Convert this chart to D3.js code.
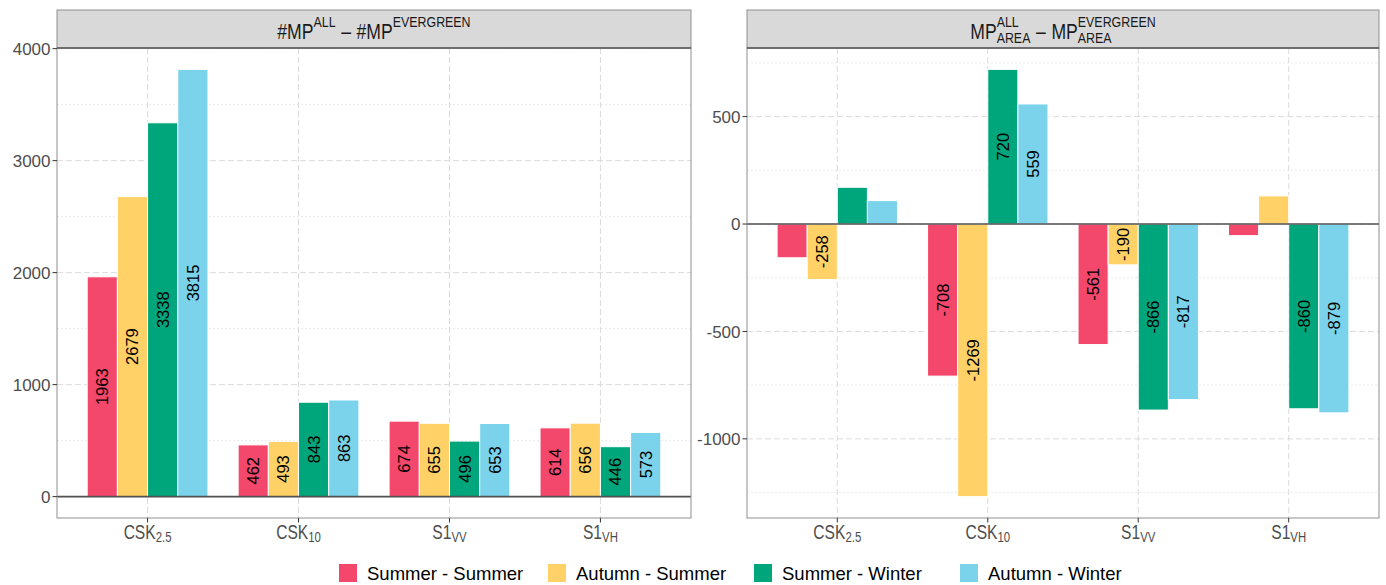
<!DOCTYPE html>
<html>
<head>
<meta charset="utf-8">
<script src="https://cdn.jsdelivr.net/npm/d3@7"></script>
<style>
  html, body { margin: 0; padding: 0; background: #fff; }
  svg { display: block; font-family: "Liberation Sans", Arial, Helvetica, sans-serif; }
</style>
</head>
<body>
<svg id="chart" width="1386" height="585"></svg>
<script>
// Sensor / product categories (base name + subscript)
const categoryBase = ["CSK", "CSK", "S1", "S1"];
const categorySub  = ["2.5", "10", "VV", "VH"];
const categoryIds  = ["CSK2.5", "CSK10", "S1VV", "S1VH"];

// Season combinations
const seriesNames  = ["Summer - Summer", "Autumn - Summer", "Summer - Winter", "Autumn - Winter"];
const seriesColors = ["#F3476B", "#FFD166", "#00A67B", "#7AD3EA"];

// #MP(ALL) - #MP(EVERGREEN), one array per season combination
const countSummerSummer = [1963, 462, 674, 614];
const countAutumnSummer = [2679, 493, 655, 656];
const countSummerWinter = [3338, 843, 496, 446];
const countAutumnWinter = [3815, 863, 653, 573];

// MP_AREA(ALL) - MP_AREA(EVERGREEN)
const areaSummerSummer = [-157, -708, -561, -54];
const areaAutumnSummer = [-258, -1269, -190, 131];
const areaSummerWinter = [171, 720, -866, -860];
const areaAutumnWinter = [109, 559, -817, -879];

// Axis ticks
const countTicks = [0, 1000, 2000, 3000, 4000];
const countMinor = [500, 1500, 2500, 3500];
const areaTicks  = [-1000, -500, 0, 500];
const areaMinor  = [-1250, -750, -250, 250, 750];

// Bars smaller than this (in absolute value) carry no value label
const labelMin = 180;

const countSeries = [countSummerSummer, countAutumnSummer, countSummerWinter, countAutumnWinter];
const areaSeries  = [areaSummerSummer, areaAutumnSummer, areaSummerWinter, areaAutumnWinter];

// math-style labels (strip titles, category names) use a narrow face
const titleScale = 0.8;
const axisMathScale = 0.76;

// legend key left edges
const legendKeyX = [339, 548, 754, 960];

const svg = d3.select("#chart");

// Draws a run of text pieces (with optional super/subscript stacks) and aligns it
function drawRich(parent, items, x, baseline, anchor, color, sx) {
  sx = sx || 1;
  const g = parent.append("g").attr("fill", color);
  let cx = 0;
  items.forEach(it => {
    if (it.gap) { cx += it.gap; return; }
    const parts = it.stack ? it.stack : [it];
    let w = 0;
    parts.forEach(p => {
      const t = g.append("text")
        .attr("x", cx).attr("y", p.dy || 0)
        .attr("font-size", p.size)
        .text(p.text);
      w = Math.max(w, t.node().getComputedTextLength());
    });
    cx += w;
  });
  const width = cx * sx;
  const off = anchor === "middle" ? -width / 2 : anchor === "end" ? -width : 0;
  g.attr("transform", `translate(${x + off},${baseline}) scale(${sx},1)`);
  return g;
}

function drawPanel(cfg) {
  const { x0, x1, y0, y1, stripTop, series, ticks, minor, title } = cfg;
  const all = series.flat();
  const lo = Math.min(0, d3.min(all)), hi = Math.max(0, d3.max(all));
  const pad = (hi - lo) * 0.05;
  const y = d3.scaleLinear().domain([lo - pad, hi + pad]).range([y1, y0]);

  const x = d3.scaleBand().domain(categoryIds).range([x0, x1])
    .paddingInner(0.2).paddingOuter(0.2);
  const xs = d3.scaleBand().domain(d3.range(series.length)).range([0, x.bandwidth()]);

  const g = svg.append("g");

  // strip
  g.append("rect").attr("x", x0).attr("y", stripTop)
    .attr("width", x1 - x0).attr("height", y0 - stripTop)
    .attr("fill", "#d9d9d9").attr("stroke", "#8f8f8f").attr("stroke-width", 1);
  drawRich(g, title, (x0 + x1) / 2, cfg.titleBaseline, "middle", "#1a1a1a", titleScale);

  // grid
  const grid = g.append("g");
  grid.selectAll(".minor").data(minor).join("line")
    .attr("x1", x0).attr("x2", x1)
    .attr("y1", d => y(d)).attr("y2", d => y(d))
    .attr("stroke", "#e4e4e4").attr("stroke-width", 0.8).attr("stroke-dasharray", "2,2");
  grid.selectAll(".major").data(ticks).join("line")
    .attr("x1", x0).attr("x2", x1)
    .attr("y1", d => y(d)).attr("y2", d => y(d))
    .attr("stroke", "#dadada").attr("stroke-width", 1).attr("stroke-dasharray", "6,3");
  grid.selectAll(".vmajor").data(categoryIds).join("line")
    .attr("x1", d => x(d) + x.bandwidth() / 2).attr("x2", d => x(d) + x.bandwidth() / 2)
    .attr("y1", y0).attr("y2", y1)
    .attr("stroke", "#dadada").attr("stroke-width", 1).attr("stroke-dasharray", "6,3");

  // bars
  const cells = [];
  series.forEach((vals, j) => vals.forEach((v, i) => cells.push({ cat: categoryIds[i], j, v })));
  g.append("g").selectAll("rect").data(cells).join("rect")
    .attr("x", d => x(d.cat) + xs(d.j))
    .attr("width", xs.bandwidth())
    .attr("y", d => y(Math.max(0, d.v)))
    .attr("height", d => Math.abs(y(d.v) - y(0)))
    .attr("fill", d => seriesColors[d.j])
    .attr("stroke", "#fff").attr("stroke-width", 1);

  // zero line
  g.append("line").attr("x1", x0).attr("x2", x1)
    .attr("y1", y(0)).attr("y2", y(0))
    .attr("stroke", "#505050").attr("stroke-width", 1.6);

  // value labels
  g.append("g").selectAll("text").data(cells.filter(d => Math.abs(d.v) >= labelMin)).join("text")
    .attr("transform", d => {
      const cx = x(d.cat) + xs(d.j) + xs.bandwidth() / 2;
      const cy = (y(d.v) + y(0)) / 2;
      return `translate(${cx},${cy}) rotate(-90)`;
    })
    .attr("text-anchor", "middle").attr("dy", "0.36em")
    .attr("font-size", 16.5).attr("fill", "#000")
    .text(d => String(d.v));

  // panel border
  g.append("rect").attr("x", x0).attr("y", y0)
    .attr("width", x1 - x0).attr("height", y1 - y0)
    .attr("fill", "none").attr("stroke", "#8f8f8f").attr("stroke-width", 1);
  g.append("line").attr("x1", x0).attr("x2", x1).attr("y1", y0).attr("y2", y0)
    .attr("stroke", "#5a5a5a").attr("stroke-width", 1.6);

  // y axis
  const ya = g.append("g");
  ya.selectAll("line").data(ticks).join("line")
    .attr("x1", x0 - 4.5).attr("x2", x0)
    .attr("y1", d => y(d)).attr("y2", d => y(d))
    .attr("stroke", "#333").attr("stroke-width", 1);
  ya.selectAll("text").data(ticks).join("text")
    .attr("x", x0 - 6.5).attr("y", d => y(d)).attr("dy", "0.36em")
    .attr("text-anchor", "end").attr("font-size", 17).attr("fill", "#4d4d4d")
    .text(d => String(d));

  // x axis
  categoryIds.forEach((c, i) => {
    const cx = x(c) + x.bandwidth() / 2;
    g.append("line").attr("x1", cx).attr("x2", cx).attr("y1", y1).attr("y2", y1 + 4.5)
      .attr("stroke", "#333").attr("stroke-width", 1);
    drawRich(g, [
      { text: categoryBase[i], size: 20.5 },
      { text: categorySub[i], size: 15, dy: 3 }
    ], cx, y1 + 21, "middle", "#4d4d4d", axisMathScale);
  });
}

const stripTop = 10, panelTop = 48, panelBottom = 518;

drawPanel({
  x0: 57, x1: 691, y0: panelTop, y1: panelBottom, stripTop,
  series: countSeries, ticks: countTicks, minor: countMinor,
  titleBaseline: 38.5,
  title: [
    { text: "#MP", size: 22 },
    { text: "ALL", size: 15.5, dy: -12 },
    { gap: 7 }, { text: "\u2013", size: 22 }, { gap: 7 },
    { text: "#MP", size: 22 },
    { text: "EVERGREEN", size: 15.5, dy: -12 }
  ]
});

drawPanel({
  x0: 747, x1: 1379, y0: panelTop, y1: panelBottom, stripTop,
  series: areaSeries, ticks: areaTicks, minor: areaMinor,
  titleBaseline: 38.5,
  title: [
    { text: "MP", size: 22 },
    { stack: [{ text: "ALL", size: 15.5, dy: -12 }, { text: "AREA", size: 15.5, dy: 4 }] },
    { gap: 7 }, { text: "\u2013", size: 22 }, { gap: 7 },
    { text: "MP", size: 22 },
    { stack: [{ text: "EVERGREEN", size: 15.5, dy: -12 }, { text: "AREA", size: 15.5, dy: 4 }] }
  ]
});

// legend
const legend = svg.append("g");
seriesNames.forEach((name, j) => {
  const lx = legendKeyX[j];
  legend.append("rect").attr("x", lx).attr("y", 564).attr("width", 18).attr("height", 18)
    .attr("fill", seriesColors[j]);
  legend.append("text").attr("x", lx + 28).attr("y", 580)
    .attr("font-size", 18.5).attr("fill", "#000").text(name);
});
</script>
</body>
</html>
